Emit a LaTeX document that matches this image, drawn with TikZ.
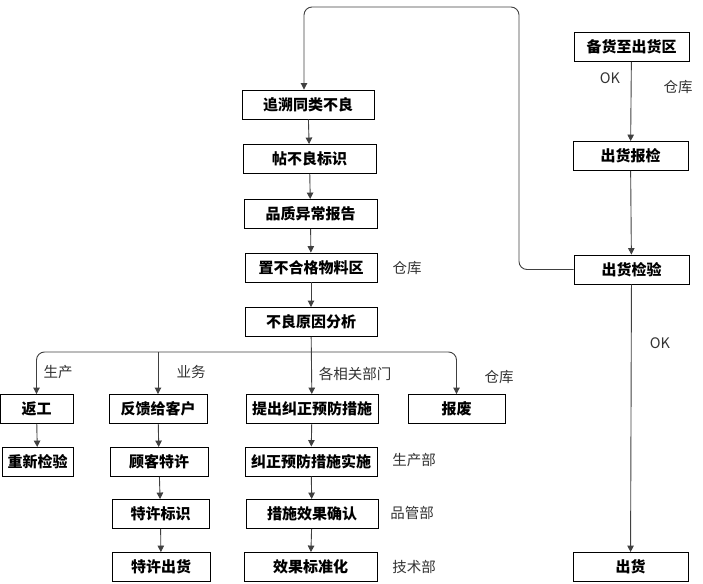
\documentclass[tikz,border=0pt]{standalone}
\usepackage{fontspec}
\setmainfont{Noto Sans CJK SC}
\usetikzlibrary{arrows.meta, positioning}

\begin{document}
\begin{tikzpicture}[x=1pt, y=-1pt,
  proc/.style={draw, line width=0.9pt, minimum height=29pt, inner sep=1pt,
    font=\fontsize{15}{17}\selectfont\bfseries},
  arr/.style={-{Triangle[length=6.5pt,width=6.5pt]}, line width=0.9pt, black!75},
  lbl/.style={font=\fontsize{14.5}{17}\selectfont, text=black!80},
]
\useasboundingbox (0,0) rectangle (703,583);

% left main chain
\node[proc, minimum width=132pt] (zs) at (308,104.5) {追溯同类不良};
\node[proc, minimum width=133pt] (tb) at (309.5,159) {帖不良标识};
\node[proc, minimum width=133pt] (pz) at (310.5,214) {品质异常报告};
\node[proc, minimum width=132pt] (zb) at (311,267.5) {置不合格物料区};
\node[proc, minimum width=132pt] (bl) at (311,322) {不良原因分析};

% branches
\node[proc, minimum width=73pt] (fg) at (36.5,409) {返工};
\node[proc, minimum width=98pt] (fk) at (158,409) {反馈给客户};
\node[proc, minimum width=132pt] (tc) at (312,409) {提出纠正预防措施};
\node[proc, minimum width=97pt] (bf) at (456.5,409) {报废};

\node[proc, minimum width=71pt] (cj) at (37.5,462) {重新检验};
\node[proc, minimum width=98pt] (gk) at (159,462) {顾客特许};
\node[proc, minimum width=97pt] (tx) at (160.5,514) {特许标识};
\node[proc, minimum width=98pt] (tch) at (161,567) {特许出货};

\node[proc, minimum width=132pt] (js) at (311,461.5) {纠正预防措施实施};
\node[proc, minimum width=132pt] (qr) at (312,514) {措施效果确认};
\node[proc, minimum width=133pt] (bz) at (310.5,567) {效果标准化};

% shipping column
\node[proc, minimum width=115pt] (bh) at (631.5,47) {备货至出货区};
\node[proc, minimum width=115pt] (bj) at (630.5,156) {出货报检};
\node[proc, minimum width=115pt] (jy) at (631.5,269.5) {出货检验};
\node[proc, minimum width=115pt] (ch) at (630.5,567) {出货};

% labels
\node[lbl] (l1) at (407,268) {仓库};
\node[lbl] (l2) at (610,78) {OK};
\node[lbl] (l3) at (678,87) {仓库};
\node[lbl] (l4) at (660,343) {OK};
\node[lbl] (l5) at (58,372) {生产};
\node[lbl] (l6) at (191,372) {业务};
\node[lbl] (l7) at (355,374) {各相关部门};
\node[lbl] (l8) at (499,377) {仓库};
\node[lbl] (l9) at (414,460) {生产部};
\node[lbl] (l10) at (412,513) {品管部};
\node[lbl] (l11) at (414,567) {技术部};

\coordinate (loopR) at (519,7);
\coordinate (split) at (311,352);

\draw[arr] (bh) -- (bj);
\draw[arr] (bj) -- (jy);
\draw[arr] (jy) -- (ch);
\draw[arr, rounded corners=8pt] (jy.west) -| (loopR) -| ([xshift=-4pt]zs.north);

\draw[arr] (zs) -- (tb);
\draw[arr] (tb) -- (pz);
\draw[arr] (pz) -- (zb);
\draw[arr] (zb) -- (bl);

\draw[arr] (bl) -- (tc);
\draw[arr, rounded corners=8pt] (split) -| (fg);
\draw[arr, rounded corners=8pt] (split) -| (bf);
\draw[arr] (fk.north |- split) -- (fk);

\draw[arr] (fg) -- (cj);
\draw[arr] (fk) -- (gk);
\draw[arr] (gk) -- (tx);
\draw[arr] (tx) -- (tch);
\draw[arr] (tc) -- (js);
\draw[arr] (js) -- (qr);
\draw[arr] (qr) -- (bz);

\end{tikzpicture}
\end{document}
